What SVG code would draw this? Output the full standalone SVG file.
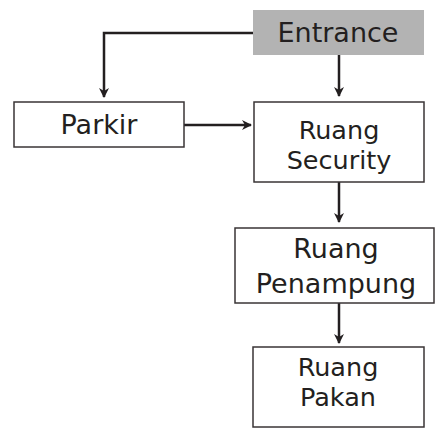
<svg xmlns="http://www.w3.org/2000/svg" width="446" height="438" viewBox="0 0 446 438">
<style>
.box{fill:#fff;stroke:#3a3536;stroke-width:1.5}
.gray{fill:#b3b3b3;stroke:none}
.t{font-family:"DejaVu Sans",sans-serif;font-size:27px;fill:#231f20;text-anchor:middle}
.s{font-size:25.5px}
.c{fill:none;stroke:#231f20;stroke-width:2.5}
</style>
<defs>
<marker id="ah" viewBox="0 0 10 10" refX="9" refY="5" markerWidth="4" markerHeight="4" orient="auto" markerUnits="strokeWidth">
<path d="M0,0 L10,5 L0,10 L3,5 Z" fill="#231f20"/>
</marker>
</defs>
<rect width="446" height="438" fill="#fff"/>
<g id="connectors">
<path class="c" d="M253,33 H104 V97" marker-end="url(#ah)"/>
<path class="c" d="M339,55 V96" marker-end="url(#ah)"/>
<path class="c" d="M184,125 H251" marker-end="url(#ah)"/>
<path class="c" d="M339,182 V222" marker-end="url(#ah)"/>
<path class="c" d="M339,303 V343" marker-end="url(#ah)"/>
</g>
<g id="entrance">
<rect class="gray" x="253" y="10" width="171" height="45"/>
<text class="t" x="338" y="42">Entrance</text>
</g>
<g id="parkir">
<rect class="box" x="14" y="102" width="170" height="45"/>
<text class="t" x="99" y="134">Parkir</text>
</g>
<g id="security">
<rect class="box" x="254" y="102" width="170" height="80"/>
<text class="t s" x="339" y="139">Ruang</text>
<text class="t s" x="339" y="169">Security</text>
</g>
<g id="penampung">
<rect class="box" x="235" y="228" width="199" height="75"/>
<text class="t" x="336" y="258">Ruang</text>
<text class="t" x="336" y="293">Penampung</text>
</g>
<g id="pakan">
<rect class="box" x="253" y="347" width="171" height="80"/>
<text class="t s" x="338" y="376">Ruang</text>
<text class="t s" x="338" y="406">Pakan</text>
</g>
</svg>
